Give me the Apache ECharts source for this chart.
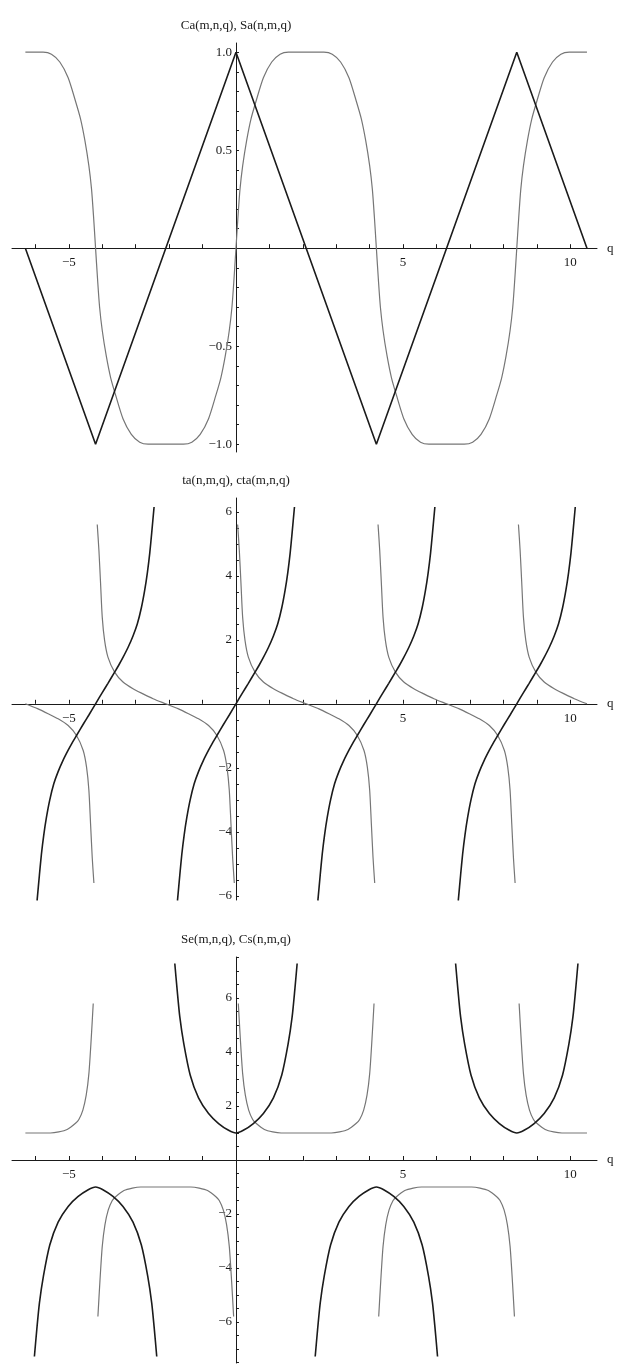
<!DOCTYPE html>
<html>
<head>
<meta charset="utf-8">
<script src="https://cdn.jsdelivr.net/npm/echarts@6/dist/echarts.min.js"></script>
<style>
  html, body { margin: 0; padding: 0; background: #fff; }
  #main { width: 618px; height: 1365px; }
</style>
</head>
<body>
<div id="main"></div>
<script>
// ticks and labels
var qTicks = [-6, -5, -4, -3, -2, -1, 1, 2, 3, 4, 5, 6, 7, 8, 9, 10];
var qLabels = [-5, 5, 10];
var p1Ticks = [-1, -0.9, -0.8, -0.7, -0.6, -0.5, -0.4, -0.3, -0.2, -0.1, 0.1, 0.2, 0.3, 0.4, 0.5, 0.6, 0.7, 0.8, 0.9, 1];
var p1Labels = [-1, -0.5, 0.5, 1];
var p2Ticks = [-6, -5.5, -5, -4.5, -4, -3.5, -3, -2.5, -2, -1.5, -1, -0.5, 0.5, 1, 1.5, 2, 2.5, 3, 3.5, 4, 4.5, 5, 5.5, 6];
var p3Ticks = [-7.5, -7, -6.5, -6, -5.5, -5, -4.5, -4, -3.5, -3, -2.5, -2, -1.5, -1, -0.5, 0.5, 1, 1.5, 2, 2.5, 3, 3.5, 4, 4.5, 5, 5.5, 6, 6.5, 7, 7.5];
var p23Labels = [-6, -4, -2, 2, 4, 6];
var titles = ['Ca(m,n,q), Sa(n,m,q)', 'ta(n,m,q), cta(m,n,q)', 'Se(m,n,q), Cs(n,m,q)'];

// panel 1: Ca (black), Sa (grey)
var caPts = [[-6.3, 0], [-4.2, -1], [0, 1], [4.2, -1], [8.4, 1], [10.5, 0]];
var saPts = [[-6.3, 1], [-5.77, 1], [-5.52, 0.99], [-5.27, 0.95], [-5.02, 0.87], [-4.8, 0.75], [-4.65, 0.66], [-4.52, 0.55], [-4.4, 0.42], [-4.32, 0.3], [-4.26, 0.16], [-4.2, 0],
  [-4.14, -0.16], [-4.08, -0.3], [-4.0, -0.42], [-3.88, -0.55], [-3.75, -0.66], [-3.6, -0.75], [-3.38, -0.87], [-3.13, -0.95], [-2.88, -0.99], [-2.63, -1], [-2.1, -1],
  [-1.57, -1], [-1.32, -0.99], [-1.07, -0.95], [-0.82, -0.87], [-0.6, -0.75], [-0.45, -0.66], [-0.32, -0.55], [-0.2, -0.42], [-0.12, -0.3], [-0.06, -0.16], [0, 0],
  [0.06, 0.16], [0.12, 0.3], [0.2, 0.42], [0.32, 0.55], [0.45, 0.66], [0.6, 0.75], [0.82, 0.87], [1.07, 0.95], [1.32, 0.99], [1.57, 1], [2.1, 1],
  [2.63, 1], [2.88, 0.99], [3.13, 0.95], [3.38, 0.87], [3.6, 0.75], [3.75, 0.66], [3.88, 0.55], [4.0, 0.42], [4.08, 0.3], [4.14, 0.16], [4.2, 0],
  [4.26, -0.16], [4.32, -0.3], [4.4, -0.42], [4.52, -0.55], [4.65, -0.66], [4.8, -0.75], [5.02, -0.87], [5.27, -0.95], [5.52, -0.99], [5.77, -1], [6.3, -1],
  [6.83, -1], [7.08, -0.99], [7.33, -0.95], [7.58, -0.87], [7.8, -0.75], [7.95, -0.66], [8.08, -0.55], [8.2, -0.42], [8.28, -0.3], [8.34, -0.16], [8.4, 0],
  [8.46, 0.16], [8.52, 0.3], [8.6, 0.42], [8.72, 0.55], [8.85, 0.66], [9.0, 0.75], [9.22, 0.87], [9.47, 0.95], [9.72, 0.99], [9.97, 1], [10.5, 1]];

// panel 2: ta (black), cta (grey), one array per branch
var taBranches = [
  [[-5.95, -6.15], [-5.88, -5.35], [-5.82, -4.7], [-5.75, -4.1], [-5.67, -3.55], [-5.57, -3.0], [-5.45, -2.5], [-5.32, -2.12], [-5.17, -1.76], [-5.02, -1.45], [-4.9, -1.22], [-4.77, -0.99], [-4.57, -0.64], [-4.4, -0.35], [-4.2, 0],
   [-4.0, 0.35], [-3.83, 0.64], [-3.63, 0.99], [-3.5, 1.22], [-3.38, 1.45], [-3.23, 1.76], [-3.08, 2.12], [-2.95, 2.5], [-2.83, 3.0], [-2.73, 3.55], [-2.65, 4.1], [-2.58, 4.7], [-2.52, 5.35], [-2.45, 6.15]],
  [[-1.75, -6.15], [-1.68, -5.35], [-1.62, -4.7], [-1.55, -4.1], [-1.47, -3.55], [-1.37, -3.0], [-1.25, -2.5], [-1.12, -2.12], [-0.97, -1.76], [-0.82, -1.45], [-0.7, -1.22], [-0.57, -0.99], [-0.37, -0.64], [-0.2, -0.35], [0, 0],
   [0.2, 0.35], [0.37, 0.64], [0.57, 0.99], [0.7, 1.22], [0.82, 1.45], [0.97, 1.76], [1.12, 2.12], [1.25, 2.5], [1.37, 3.0], [1.47, 3.55], [1.55, 4.1], [1.62, 4.7], [1.68, 5.35], [1.75, 6.15]],
  [[2.45, -6.15], [2.52, -5.35], [2.58, -4.7], [2.65, -4.1], [2.73, -3.55], [2.83, -3.0], [2.95, -2.5], [3.08, -2.12], [3.23, -1.76], [3.38, -1.45], [3.5, -1.22], [3.63, -0.99], [3.83, -0.64], [4.0, -0.35], [4.2, 0],
   [4.4, 0.35], [4.57, 0.64], [4.77, 0.99], [4.9, 1.22], [5.02, 1.45], [5.17, 1.76], [5.32, 2.12], [5.45, 2.5], [5.57, 3.0], [5.67, 3.55], [5.75, 4.1], [5.82, 4.7], [5.88, 5.35], [5.95, 6.15]],
  [[6.65, -6.15], [6.72, -5.35], [6.78, -4.7], [6.85, -4.1], [6.93, -3.55], [7.03, -3.0], [7.15, -2.5], [7.28, -2.12], [7.43, -1.76], [7.58, -1.45], [7.7, -1.22], [7.83, -0.99], [8.03, -0.64], [8.2, -0.35], [8.4, 0],
   [8.6, 0.35], [8.77, 0.64], [8.97, 0.99], [9.1, 1.22], [9.22, 1.45], [9.37, 1.76], [9.52, 2.12], [9.65, 2.5], [9.77, 3.0], [9.87, 3.55], [9.95, 4.1], [10.02, 4.7], [10.08, 5.35], [10.15, 6.15]]
];
var ctaBranches = [
  [[-6.3, 0], [-5.92, -0.16], [-5.62, -0.31], [-5.32, -0.47], [-5.02, -0.68], [-4.77, -0.99], [-4.57, -1.46], [-4.47, -1.98], [-4.4, -2.7], [-4.35, -3.75], [-4.3, -4.8], [-4.25, -5.6]],
  [[-4.15, 5.6], [-4.1, 4.8], [-4.05, 3.75], [-4.0, 2.7], [-3.93, 1.98], [-3.83, 1.46], [-3.63, 0.99], [-3.38, 0.68], [-3.08, 0.47], [-2.78, 0.31], [-2.48, 0.16], [-2.1, 0],
   [-1.72, -0.16], [-1.42, -0.31], [-1.12, -0.47], [-0.82, -0.68], [-0.57, -0.99], [-0.37, -1.46], [-0.27, -1.98], [-0.2, -2.7], [-0.15, -3.75], [-0.1, -4.8], [-0.05, -5.6]],
  [[0.05, 5.6], [0.1, 4.8], [0.15, 3.75], [0.2, 2.7], [0.27, 1.98], [0.37, 1.46], [0.57, 0.99], [0.82, 0.68], [1.12, 0.47], [1.42, 0.31], [1.72, 0.16], [2.1, 0],
   [2.48, -0.16], [2.78, -0.31], [3.08, -0.47], [3.38, -0.68], [3.63, -0.99], [3.83, -1.46], [3.93, -1.98], [4.0, -2.7], [4.05, -3.75], [4.1, -4.8], [4.15, -5.6]],
  [[4.25, 5.6], [4.3, 4.8], [4.35, 3.75], [4.4, 2.7], [4.47, 1.98], [4.57, 1.46], [4.77, 0.99], [5.02, 0.68], [5.32, 0.47], [5.62, 0.31], [5.92, 0.16], [6.3, 0],
   [6.68, -0.16], [6.98, -0.31], [7.28, -0.47], [7.58, -0.68], [7.83, -0.99], [8.03, -1.46], [8.13, -1.98], [8.2, -2.7], [8.25, -3.75], [8.3, -4.8], [8.35, -5.6]],
  [[8.45, 5.6], [8.5, 4.8], [8.55, 3.75], [8.6, 2.7], [8.67, 1.98], [8.77, 1.46], [8.97, 0.99], [9.22, 0.68], [9.52, 0.47], [9.82, 0.31], [10.12, 0.16], [10.5, 0]]
];

// panel 3: Se (black), Cs (grey)
var seBranches = [
  [[-6.03, -7.28], [-5.96, -6.3], [-5.88, -5.3], [-5.76, -4.3], [-5.57, -3.15], [-5.32, -2.3], [-5.02, -1.72], [-4.72, -1.35], [-4.42, -1.1], [-4.2, -1.0],
   [-3.98, -1.1], [-3.68, -1.35], [-3.38, -1.72], [-3.08, -2.3], [-2.83, -3.15], [-2.64, -4.3], [-2.52, -5.3], [-2.44, -6.3], [-2.37, -7.28]],
  [[-1.83, 7.28], [-1.76, 6.3], [-1.68, 5.3], [-1.56, 4.3], [-1.37, 3.15], [-1.12, 2.3], [-0.82, 1.72], [-0.52, 1.35], [-0.22, 1.1], [0, 1.0],
   [0.22, 1.1], [0.52, 1.35], [0.82, 1.72], [1.12, 2.3], [1.37, 3.15], [1.56, 4.3], [1.68, 5.3], [1.76, 6.3], [1.83, 7.28]],
  [[2.37, -7.28], [2.44, -6.3], [2.52, -5.3], [2.64, -4.3], [2.83, -3.15], [3.08, -2.3], [3.38, -1.72], [3.68, -1.35], [3.98, -1.1], [4.2, -1.0],
   [4.42, -1.1], [4.72, -1.35], [5.02, -1.72], [5.32, -2.3], [5.57, -3.15], [5.76, -4.3], [5.88, -5.3], [5.96, -6.3], [6.03, -7.28]],
  [[6.57, 7.28], [6.64, 6.3], [6.72, 5.3], [6.84, 4.3], [7.03, 3.15], [7.28, 2.3], [7.58, 1.72], [7.88, 1.35], [8.18, 1.1], [8.4, 1.0],
   [8.62, 1.1], [8.92, 1.35], [9.22, 1.72], [9.52, 2.3], [9.77, 3.15], [9.96, 4.3], [10.08, 5.3], [10.16, 6.3], [10.23, 7.28]]
];
var csBranches = [
  [[-6.3, 1.0], [-5.55, 1.0], [-5.3, 1.04], [-5.05, 1.13], [-4.8, 1.36], [-4.7, 1.5], [-4.58, 1.85], [-4.48, 2.4], [-4.4, 3.2], [-4.33, 4.5], [-4.27, 5.8]],
  [[-4.13, -5.8], [-4.07, -4.5], [-4.0, -3.2], [-3.92, -2.4], [-3.82, -1.85], [-3.7, -1.5], [-3.6, -1.36], [-3.35, -1.13], [-3.1, -1.04], [-2.85, -1.0], [-2.1, -1.0],
   [-1.35, -1.0], [-1.1, -1.04], [-0.85, -1.13], [-0.6, -1.36], [-0.5, -1.5], [-0.38, -1.85], [-0.28, -2.4], [-0.2, -3.2], [-0.13, -4.5], [-0.07, -5.8]],
  [[0.07, 5.8], [0.13, 4.5], [0.2, 3.2], [0.28, 2.4], [0.38, 1.85], [0.5, 1.5], [0.6, 1.36], [0.85, 1.13], [1.1, 1.04], [1.35, 1.0], [2.1, 1.0],
   [2.85, 1.0], [3.1, 1.04], [3.35, 1.13], [3.6, 1.36], [3.7, 1.5], [3.82, 1.85], [3.92, 2.4], [4.0, 3.2], [4.07, 4.5], [4.13, 5.8]],
  [[4.27, -5.8], [4.33, -4.5], [4.4, -3.2], [4.48, -2.4], [4.58, -1.85], [4.7, -1.5], [4.8, -1.36], [5.05, -1.13], [5.3, -1.04], [5.55, -1.0], [6.3, -1.0],
   [7.05, -1.0], [7.3, -1.04], [7.55, -1.13], [7.8, -1.36], [7.9, -1.5], [8.02, -1.85], [8.12, -2.4], [8.2, -3.2], [8.27, -4.5], [8.33, -5.8]],
  [[8.47, 5.8], [8.53, 4.5], [8.6, 3.2], [8.68, 2.4], [8.78, 1.85], [8.9, 1.5], [9.0, 1.36], [9.25, 1.13], [9.5, 1.04], [9.75, 1.0], [10.5, 1.0]]
];

var font = 'Liberation Serif';
var ink = '#1a1a1a';
var xRange = [-6.7, 10.8];

function minusFmt(digits) {
  return function (v) {
    var s = Math.abs(v).toFixed(digits);
    return v < 0 ? '\u2212' + s : s;
  };
}

var grids = [
  { left: 12, width: 585, top: 43, height: 409 },
  { left: 12, width: 585, top: 498, height: 402 },
  { left: 12, width: 585, top: 957, height: 406 }
];
var yRanges = [[-1.04, 1.047], [-6.13, 6.43], [-7.52, 7.52]];
var yTicks = [p1Ticks, p2Ticks, p3Ticks];
var yLabels = [p1Labels, p23Labels, p23Labels];

var xAxes = [], yAxes = [];
for (var i = 0; i < 3; i++) {
  var g = grids[i];
  g.outerBoundsMode = 'none';
  g.containLabel = false;
  // shift both axes so they cross at the origin, labels included
  var xOff = -g.height * (0 - yRanges[i][0]) / (yRanges[i][1] - yRanges[i][0]);
  var yOff = -g.width * (0 - xRange[0]) / (xRange[1] - xRange[0]);
  xAxes.push({
    type: 'value', gridIndex: i, min: xRange[0], max: xRange[1],
    position: 'bottom', offset: xOff,
    name: 'q', nameLocation: 'end', nameGap: 10,
    nameTextStyle: { fontFamily: font, fontSize: 13, color: ink },
    axisLine: { onZero: false, lineStyle: { color: ink, width: 1 } },
    axisTick: { inside: true, length: 4, customValues: qTicks, lineStyle: { color: ink } },
    axisLabel: { customValues: qLabels, margin: 8, formatter: minusFmt(0), fontFamily: font, fontSize: 13, color: ink },
    splitLine: { show: false }
  });
  yAxes.push({
    type: 'value', gridIndex: i, min: yRanges[i][0], max: yRanges[i][1],
    position: 'left', offset: yOff,
    name: titles[i], nameLocation: 'end', nameGap: 11,
    nameTextStyle: { fontFamily: font, fontSize: 13, color: ink },
    axisLine: { onZero: false, lineStyle: { color: ink, width: 1 } },
    axisTick: { inside: true, length: 3, customValues: yTicks[i], lineStyle: { color: ink } },
    axisLabel: { customValues: yLabels[i], margin: 4, formatter: minusFmt(i === 0 ? 1 : 0), fontFamily: font, fontSize: 13, color: ink },
    splitLine: { show: false }
  });
}

function curve(data, gi, dark, smooth) {
  return {
    type: 'line', xAxisIndex: gi, yAxisIndex: gi, data: data,
    symbol: 'none', smooth: smooth, silent: true, z: dark ? 3 : 2,
    lineStyle: { color: dark ? '#1b1b1b' : '#767676', width: dark ? 1.6 : 1.2 }
  };
}

var series = [];
series.push(curve(saPts, 0, false, 0.25));
series.push(curve(caPts, 0, true, false));
ctaBranches.forEach(function (b) { series.push(curve(b, 1, false, 0.25)); });
taBranches.forEach(function (b) { series.push(curve(b, 1, true, 0.25)); });
csBranches.forEach(function (b) { series.push(curve(b, 2, false, 0.25)); });
seBranches.forEach(function (b) { series.push(curve(b, 2, true, 0.25)); });

var myChart = echarts.init(document.getElementById('main'));
myChart.setOption({
  animation: false,
  backgroundColor: '#fff',
  grid: grids,
  xAxis: xAxes,
  yAxis: yAxes,
  series: series
});
</script>
</body>
</html>
